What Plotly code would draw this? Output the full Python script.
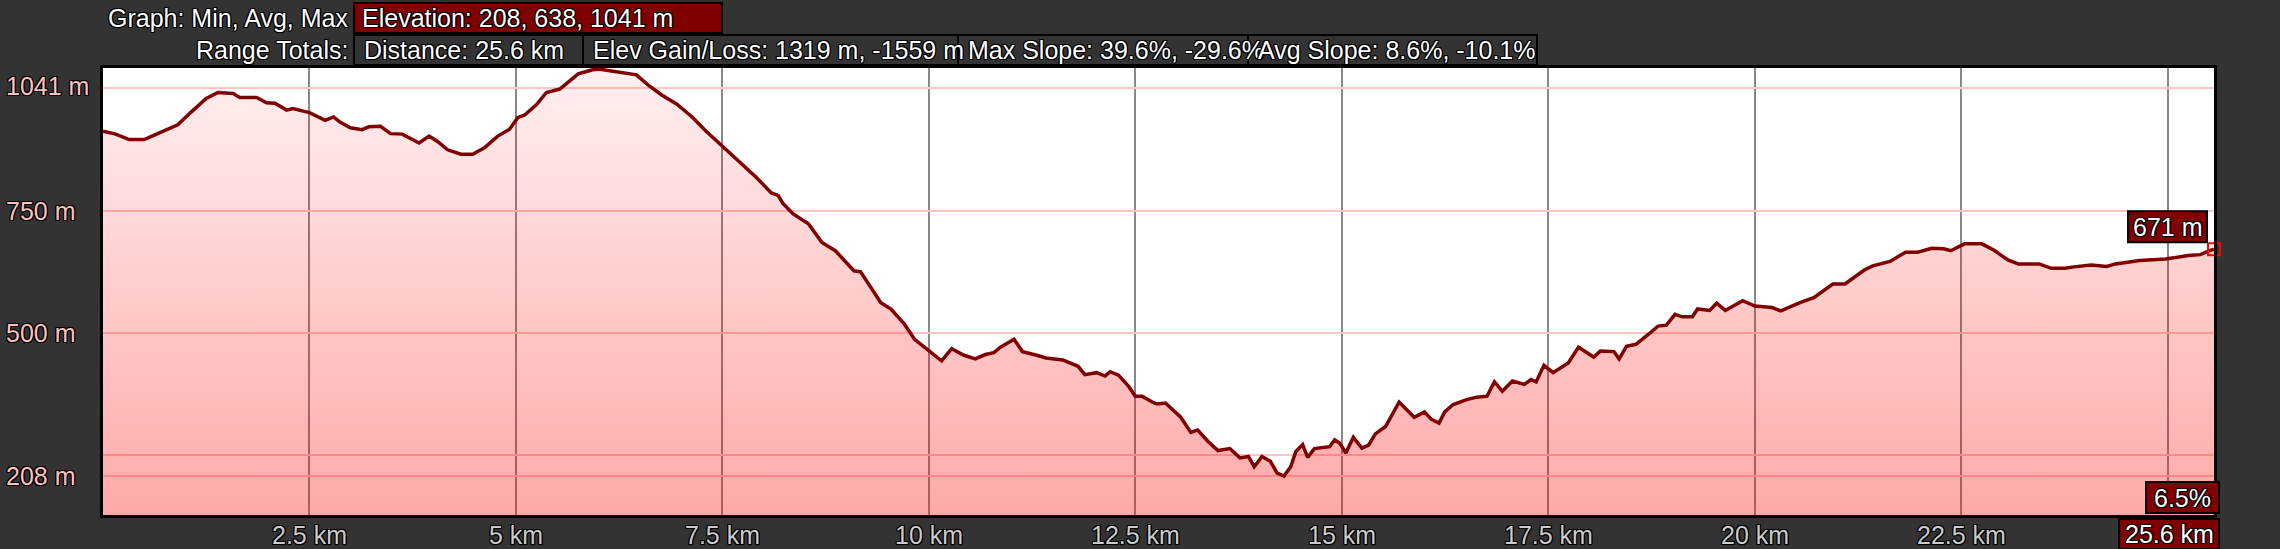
import plotly.graph_objects as go

# ---------------- data ----------------
dist_km = [0.0, 0.154, 0.317, 0.499, 0.662, 0.905, 1.067, 1.25, 1.392, 1.575, 1.656, 1.859,
           1.981, 2.082, 2.224, 2.297, 2.5, 2.69, 2.792, 2.873, 2.995, 3.137, 3.218, 3.36,
           3.481, 3.624, 3.827, 3.949, 4.05, 4.172, 4.334, 4.476, 4.618, 4.78, 4.922, 5.024,
           5.105, 5.247, 5.369, 5.531, 5.754, 5.917, 6.0, 6.12, 6.343,
           6.459, 6.602, 6.765, 6.949, 7.133, 7.296, 7.5, 7.704, 7.908, 8.092, 8.173, 8.235,
           8.357, 8.541, 8.704, 8.867, 9.092, 9.173, 9.316, 9.418, 9.541, 9.704, 9.827, 9.99,
           10.153, 10.276, 10.418, 10.561, 10.684, 10.786, 10.867, 11.031, 11.133, 11.296,
           11.418, 11.622, 11.806, 11.888, 12.031, 12.133, 12.194, 12.296, 12.418, 12.5,
           12.582, 12.704, 12.762, 12.865, 12.967, 13.049, 13.172, 13.254, 13.377, 13.5,
           13.643, 13.766, 13.869, 13.939, 14.033, 14.135, 14.217, 14.299, 14.381, 14.443,
           14.525, 14.586, 14.668, 14.77, 14.852, 14.914, 14.975, 15.049, 15.139, 15.242,
           15.324, 15.406, 15.529, 15.693, 15.877, 16.0, 16.082, 16.176, 16.246, 16.348,
           16.512, 16.635, 16.758, 16.848, 16.943, 17.066, 17.209, 17.291, 17.352, 17.447,
           17.557, 17.742, 17.865, 18.049, 18.131, 18.295, 18.357, 18.447, 18.561, 18.725,
           18.828, 18.93, 19.034, 19.118, 19.244, 19.307, 19.454, 19.538, 19.643, 19.853,
           20.0, 20.21, 20.315, 20.546, 20.714, 20.945, 21.092, 21.322, 21.427, 21.637,
           21.826, 21.973, 22.141, 22.288, 22.372, 22.54, 22.75, 22.897, 23.065, 23.191,
           23.443, 23.59, 23.758, 23.863, 24.073, 24.262, 24.366, 24.66, 24.975, 25.248,
           25.395, 25.521, 25.56]
elev_m = [912, 906, 895, 895, 907, 925, 951, 979, 991, 989, 981, 981,
          970, 969, 955, 958, 950, 934, 941, 930, 919, 915, 921, 922,
          907, 906, 888, 902, 891, 874, 865, 865, 878, 902, 916, 940,
          945, 966, 991, 998, 1029, 1037, 1039, 1036, 1031,
          1027, 1006, 986, 967, 941, 913, 881, 849, 818, 786, 781, 764,
          743, 723, 685, 668, 627, 625, 590, 562, 549, 518, 487, 464,
          443, 468, 455, 447, 456, 460, 471, 487, 462, 455,
          449, 445, 432, 415, 419, 412, 421, 414, 391, 371,
          371, 359, 355, 357, 340, 328, 297, 302, 279, 260,
          264, 245, 248, 227, 248, 238, 214, 208, 227, 258,
          272, 246, 264, 266, 268, 282, 275, 255, 287, 265,
          271, 294, 309, 359, 328, 339, 324, 316, 339, 354,
          364, 369, 371, 400, 381, 402, 395, 405, 400, 434,
          419, 439, 471, 451, 463, 462, 447, 473, 477, 499,
          514, 516, 538, 533, 533, 549, 546, 561, 546, 566,
          555, 552, 545, 562, 572, 600, 600, 628, 637, 646,
          665, 665, 673, 672, 668, 682, 682, 669, 649, 641,
          641, 632, 632, 635, 639, 636, 641, 648, 651, 658,
          660, 669, 671]

x_tick_vals = [2.5, 5, 7.5, 10, 12.5, 15, 17.5, 20, 22.5, 25]
x_tick_text = ["2.5 km", "5 km", "7.5 km", "10 km", "12.5 km", "15 km",
               "17.5 km", "20 km", "22.5 km", ""]
y_grid_vals = [208, 250, 500, 750, 1000]
y_label_vals = [1041, 750, 500, 208]
y_label_text = ["1041 m", "750 m", "500 m", "208 m"]

elev_stats = [208, 638, 1041]
distance_total_km = 25.6
gain_loss_m = [1319, -1559]
max_slope_pct = [39.6, -29.6]
avg_slope_pct = [8.6, -10.1]
end_grade_pct = 6.5

# ---------------- layout geometry ----------------
W_PX, H_PX = 2280, 549
L, R, T, B = 103, 2214, 68, 515
X_RANGE = [0, 25.56]
Y_RANGE = [128.4, 1041]

def px(x):
    return (x - L) / (R - L)

def py(y):
    return (B - y) / (B - T)

FONT = "Arial, Liberation Sans, sans-serif"
OUTLINE = "1px 1px 0 #000, -1px -1px 0 #000, 1px -1px 0 #000, -1px 1px 0 #000, 0 1px 0 #000, 0 -1px 0 #000, 1px 0 0 #000, -1px 0 0 #000"
DARKRED = "#800000"

fig = go.Figure()

fig.add_trace(go.Scatter(
    x=dist_km, y=elev_m, mode="lines",
    line=dict(color=DARKRED, width=3.5),
    fill="tozeroy",
    fillgradient=dict(type="vertical", start=Y_RANGE[0], stop=Y_RANGE[1],
                      colorscale=[[0, "rgba(255,0,0,0.34)"], [1, "rgba(255,0,0,0.06)"]]),
    hoverinfo="skip", showlegend=False,
))
fig.add_trace(go.Scatter(
    x=[dist_km[-1]], y=[elev_m[-1]], mode="markers",
    marker=dict(symbol="square-open", size=12, color="#ff0000", line=dict(width=2, color="#ff0000")),
    cliponaxis=False, hoverinfo="skip", showlegend=False,
))

shapes = []
annotations = []

def box(x0, y0, x1, y1, fill):
    shapes.append(dict(type="rect", xref="paper", yref="paper",
                       x0=px(x0), x1=px(x1), y0=py(y1), y1=py(y0),
                       fillcolor=fill, line=dict(color="#000000", width=2), layer="above"))

def text(x, y, s, anchor="left", color="#ffffff"):
    annotations.append(dict(xref="paper", yref="paper", x=px(x), y=py(y), text=s,
                            xanchor=anchor, yanchor="middle", showarrow=False,
                            font=dict(family=FONT, size=25, color=color, shadow=OUTLINE)))

# header row 1
text(350, 18, "Graph: Min, Avg, Max", anchor="right")
box(354, 3, 722, 33, DARKRED)
text(360, 18, "Elevation: %d, %d, %d m" % tuple(elev_stats))
# header row 2
text(350, 50, "Range Totals:", anchor="right")
row2 = [(354, 583, "Distance: %.1f km" % distance_total_km),
        (583, 958, "Elev Gain/Loss: %d m, %d m" % tuple(gain_loss_m)),
        (958, 1248, "Max Slope: %.1f%%, %.1f%%" % tuple(max_slope_pct)),
        (1248, 1537, "Avg Slope: %.1f%%, %.1f%%" % tuple(avg_slope_pct))]
for x0, x1, s in row2:
    box(x0, 35, x1, 65, "#333333")
for x0, x1, s in row2:
    text(x0 + 8, 50, s)

# y labels (left aligned at the page edge)
for v, s in zip(y_label_vals, y_label_text):
    a = dict(xref="paper", yref="y", x=px(4), y=v, text=s, xanchor="left",
             yanchor="middle", showarrow=False,
             font=dict(family=FONT, size=25, color="#ffc0c0", shadow=OUTLINE))
    if v == y_label_vals[0]:
        a.update(yanchor="top", yshift=-2)
    annotations.append(a)

# x labels under the grid lines
for v, s in zip(x_tick_vals, x_tick_text):
    if s:
        annotations.append(dict(xref="x", yref="paper", x=v, y=py(535), text=s,
                                xanchor="center", yanchor="middle", showarrow=False,
                                font=dict(family=FONT, size=25, color="#cccccc", shadow=OUTLINE)))

# end-point value box
shapes.append(dict(type="rect", xref="x", yref="y", xsizemode="pixel", ysizemode="pixel",
                   xanchor=dist_km[-1], yanchor=elev_m[-1], x0=-86, x1=-7, y0=7, y1=38,
                   fillcolor=DARKRED, line=dict(color="#000000", width=2), layer="above"))
annotations.append(dict(xref="x", yref="y", x=dist_km[-1], y=elev_m[-1], text="%d m" % elev_m[-1],
                        xanchor="center", yanchor="middle", xshift=-46.5, yshift=22.5,
                        showarrow=False,
                        font=dict(family=FONT, size=25, color="#ffffff", shadow=OUTLINE)))
# grade box
box(2146, 482, 2219, 513, DARKRED)
text(2182.5, 497.5, "%.1f%%" % end_grade_pct, anchor="center")
# distance box
box(2119, 519, 2219, 549, DARKRED)
text(2169, 534, "%.1f km" % distance_total_km, anchor="center")

fig.update_layout(
    width=W_PX, height=H_PX,
    margin=dict(l=L, r=W_PX - R, t=T, b=H_PX - B, pad=0, autoexpand=False),
    paper_bgcolor="#333333", plot_bgcolor="#ffffff",
    shapes=shapes, annotations=annotations,
    showlegend=False,
)
fig.update_xaxes(range=X_RANGE, tickvals=x_tick_vals, showticklabels=False, automargin=False,
                 showgrid=True, gridcolor="#888888", gridwidth=2, zeroline=False,
                 showline=True, linecolor="#000000", linewidth=3, mirror=True, ticks="")
fig.update_yaxes(range=Y_RANGE, tickvals=y_grid_vals, showticklabels=False, automargin=False,
                 showgrid=True, gridcolor="#ffc4c4", gridwidth=2, zeroline=False,
                 showline=True, linecolor="#000000", linewidth=3, mirror=True, ticks="")

fig.write_html("out.html", config={"displayModeBar": False, "staticPlot": True},
               post_script="document.body.style.margin='0';document.body.style.overflow='hidden';")
